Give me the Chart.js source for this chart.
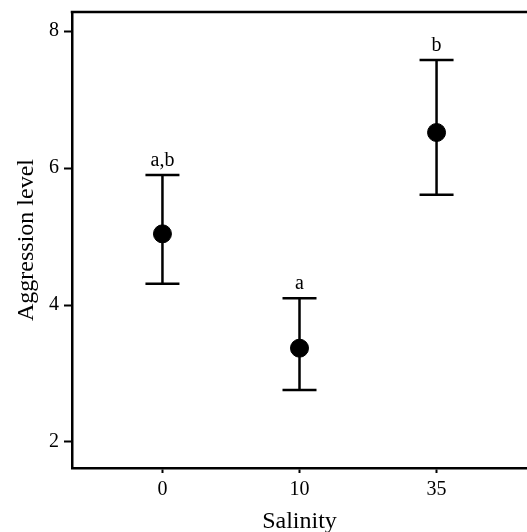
<!DOCTYPE html>
<html>
<head>
<meta charset="utf-8">
<script src="https://cdn.jsdelivr.net/npm/chart.js@4/dist/chart.umd.min.js"></script>
<style>
  html, body { margin: 0; padding: 0; background: #fff; overflow: hidden; }
</style>
</head>
<body>
<canvas id="chart" width="527" height="532"></canvas>
<script>
// values
var salinity = ['0', '10', '35'];
var meanAggression = [5.04, 3.37, 6.52];
var upperBar = [5.90, 4.10, 7.58];
var lowerBar = [4.31, 2.76, 5.61];
var groupLetters = ['a,b', 'a', 'b'];
var yTicks = [2, 4, 6, 8];

var serif = '"Liberation Serif", "Times New Roman", serif';

// error bars, letters and top frame line
var errorBars = {
    id: 'errorBars',
    beforeDatasetsDraw(chart) {
        var ctx = chart.ctx, xs = chart.scales.x, ys = chart.scales.y;
        ctx.save();
        ctx.strokeStyle = '#000';
        ctx.lineWidth = 2.5;
        for (var i = 0; i < salinity.length; i++) {
            var x = xs.getPixelForValue(i);
            var top = ys.getPixelForValue(upperBar[i]);
            var bot = ys.getPixelForValue(lowerBar[i]);
            ctx.beginPath();
            ctx.moveTo(x, top); ctx.lineTo(x, bot);
            ctx.moveTo(x - 17, top); ctx.lineTo(x + 17, top);
            ctx.moveTo(x - 17, bot); ctx.lineTo(x + 17, bot);
            ctx.stroke();
            ctx.fillStyle = '#000';
            ctx.font = '20px ' + serif;
            ctx.textAlign = 'center';
            ctx.textBaseline = 'alphabetic';
            ctx.fillText(groupLetters[i], x, top - 9);
        }
        var a = chart.chartArea;
        ctx.beginPath();
        ctx.moveTo(a.left - 1.25, a.top);
        ctx.lineTo(chart.width, a.top);
        ctx.stroke();
        ctx.restore();
    }
};

var points = meanAggression.map(function (v, i) { return { x: i, y: v }; });

new Chart(document.getElementById('chart'), {
    type: 'scatter',
    data: {
        datasets: [{
            data: points,
            backgroundColor: '#000',
            borderColor: '#000',
            pointRadius: 9,
            pointHoverRadius: 9
        }]
    },
    options: {
        responsive: false,
        animation: false,
        layout: { autoPadding: false, padding: { top: 12, right: 0, left: 0, bottom: 0 } },
        plugins: { legend: { display: false }, tooltip: { enabled: false } },
        scales: {
            x: {
                type: 'linear',
                min: -0.66,
                max: 2.66,
                afterBuildTicks: function (s) { s.ticks = salinity.map(function (c, i) { return { value: i }; }); },
                afterFit: function (s) { s.height = 64; s.paddingLeft = 0; s.paddingRight = 0; },
                ticks: {
                    callback: function (v) { return salinity[v]; },
                    color: '#000',
                    font: { family: serif, size: 20 },
                    padding: 5
                },
                grid: { drawOnChartArea: false, tickLength: 5, tickWidth: 2, tickColor: '#000' },
                border: { color: '#000', width: 2.5 },
                title: {
                    display: true, text: 'Salinity', color: '#000',
                    font: { family: serif, size: 24 }, padding: { top: -4, bottom: -4 }
                }
            },
            y: {
                min: 1.62,
                max: 8.28,
                afterBuildTicks: function (s) { s.ticks = yTicks.map(function (v) { return { value: v }; }); },
                afterFit: function (s) { s.width = 72; s.paddingTop = 0; s.paddingBottom = 0; },
                ticks: {
                    color: '#000',
                    font: { family: serif, size: 20 },
                    padding: 5
                },
                grid: { drawOnChartArea: false, tickLength: 8, tickWidth: 2, tickColor: '#000' },
                border: { color: '#000', width: 2.5 },
                title: {
                    display: true, text: 'Aggression level', color: '#000',
                    font: { family: serif, size: 24 }, padding: { top: 12, bottom: 12 }
                }
            }
        }
    },
    plugins: [errorBars]
});
</script>
</body>
</html>
